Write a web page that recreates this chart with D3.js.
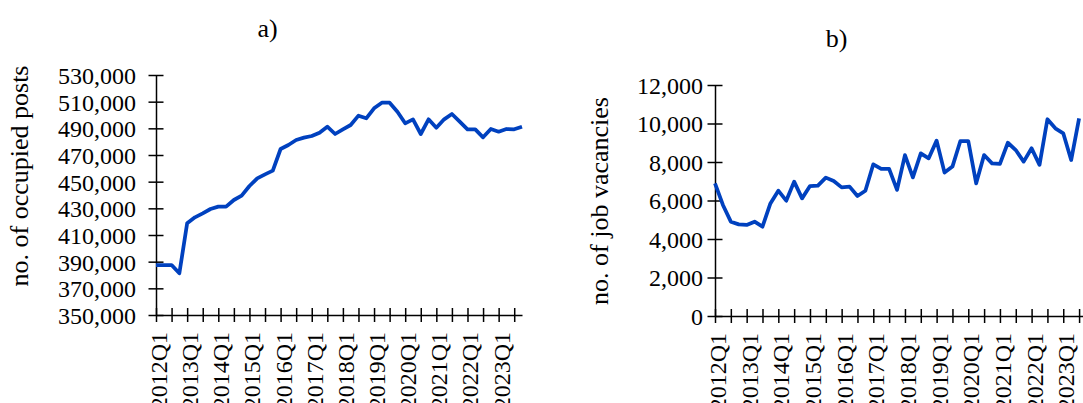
<!DOCTYPE html>
<html>
<head>
<meta charset="utf-8">
<script src="https://cdn.jsdelivr.net/npm/d3@7"></script>
<style>
  html, body { margin: 0; padding: 0; background: #fff; overflow: hidden; }
  svg { display: block; }
  text { font-family: "Liberation Serif", "Times New Roman", serif; fill: #000; }
</style>
</head>
<body>
<svg id="chart" width="1083" height="403"></svg>
<script>
// ---- data ----
const quarters = [
  "2012Q1","2012Q2","2012Q3","2012Q4","2013Q1","2013Q2","2013Q3","2013Q4",
  "2014Q1","2014Q2","2014Q3","2014Q4","2015Q1","2015Q2","2015Q3","2015Q4",
  "2016Q1","2016Q2","2016Q3","2016Q4","2017Q1","2017Q2","2017Q3","2017Q4",
  "2018Q1","2018Q2","2018Q3","2018Q4","2019Q1","2019Q2","2019Q3","2019Q4",
  "2020Q1","2020Q2","2020Q3","2020Q4","2021Q1","2021Q2","2021Q3","2021Q4",
  "2022Q1","2022Q2","2022Q3","2022Q4","2023Q1","2023Q2","2023Q3","2023Q4"
];
const tickQuarters = ["2012Q1","2012Q3","2013Q1","2013Q3","2014Q1","2014Q3","2015Q1","2015Q3",
  "2016Q1","2016Q3","2017Q1","2017Q3","2018Q1","2018Q3","2019Q1","2019Q3",
  "2020Q1","2020Q3","2021Q1","2021Q3","2022Q1","2022Q3","2023Q1","2023Q3"];
const tickLabels = ["2012Q1","2013Q1","2014Q1","2015Q1","2016Q1","2017Q1",
  "2018Q1","2019Q1","2020Q1","2021Q1","2022Q1","2023Q1"];

const occupiedPosts = [
  387500, 387500, 387500, 381250, 418750, 423250, 426250, 429500,
  431250, 431250, 436250, 439500, 446750, 452500, 455500, 458250,
  474500, 477500, 481250, 483000, 484250, 486750, 491250, 485750,
  489250, 492500, 499500, 497500, 505000, 509250, 509250, 502500,
  493750, 496750, 485750, 496750, 490500, 496750, 500750, 495000,
  489250, 489250, 483250, 489500, 487500, 489500, 489250, 491250
];
const jobVacancies = [
  6890, 5770, 4900, 4760, 4730, 4900, 4640, 5850,
  6510, 5990, 6980, 6110, 6750, 6770, 7190, 7010,
  6680, 6720, 6230, 6510, 7880, 7640, 7640, 6550,
  8360, 7200, 8450, 8190, 9110, 7450, 7760, 9090,
  9090, 6890, 8360, 7930, 7900, 9000, 8620, 8020,
  8710, 7850, 10220, 9750, 9490, 8100, 10270
];

const yTicksA = [350000,370000,390000,410000,430000,450000,470000,490000,510000,530000];
const yTicksB = [0,2000,4000,6000,8000,10000,12000];

const panelTitles = ["a)", "b)"];
const axisTitles = ["no. of occupied posts", "no. of job vacancies"];

// ---- drawing ----
const svg = d3.select("#chart");
const lineColor = "#0041BF";
const fmt = d3.format(",");
const labelSet = new Set(tickLabels);

function drawPanel(cfg) {
  const x = d3.scalePoint().domain(quarters).range(cfg.xRange);
  const y = d3.scaleLinear().domain(cfg.yDomain).range(cfg.yRange);
  const g = svg.append("g");

  // y axis
  const ya = g.append("g")
    .attr("transform", `translate(${cfg.xRange[0]},0)`)
    .call(d3.axisLeft(y).tickValues(cfg.yTicks).tickFormat(fmt).tickSize(7).tickSizeOuter(0));
  ya.select(".domain").attr("stroke", "#000").attr("stroke-width", 1.5);
  ya.selectAll(".tick line").attr("x1", -7.5).attr("x2", 7.5).attr("stroke", "#000").attr("stroke-width", 1.5);
  ya.selectAll(".tick text").attr("x", cfg.yLabelX).attr("dy", "0.35em")
    .style("font-size", "24px").style("font-family", '"Liberation Serif", "Times New Roman", serif');

  // x axis
  const xa = g.append("g")
    .attr("transform", `translate(0,${cfg.yRange[0]})`)
    .call(d3.axisBottom(x).tickValues(tickQuarters).tickFormat(d => labelSet.has(d) ? d : "").tickSize(7).tickSizeOuter(0));
  xa.select(".domain").attr("stroke", "#000").attr("stroke-width", 1.5);
  xa.selectAll(".tick line").attr("y1", -7).attr("y2", 7).attr("stroke", "#000").attr("stroke-width", 1.5);
  xa.selectAll(".tick text")
    .attr("transform", "rotate(-90)")
    .attr("x", -17).attr("y", 2).attr("dy", "0.35em")
    .style("text-anchor", "end")
    .style("font-size", "24px").style("font-family", '"Liberation Serif", "Times New Roman", serif');

  // line
  const line = d3.line()
    .x((d, i) => x(quarters[i]))
    .y(d => y(d));
  g.append("path")
    .datum(cfg.values)
    .attr("d", line)
    .attr("fill", "none")
    .attr("stroke", lineColor)
    .attr("stroke-width", 3.75)
    .attr("stroke-linejoin", "round");

  // titles
  g.append("text")
    .attr("x", cfg.titlePos[0]).attr("y", cfg.titlePos[1])
    .attr("text-anchor", "middle")
    .style("font-size", "26px")
    .text(cfg.title);
  g.append("text")
    .attr("transform", `translate(${cfg.axisTitlePos[0]},${cfg.axisTitlePos[1]}) rotate(-90)`)
    .attr("text-anchor", "middle")
    .style("font-size", "26px")
    .text(cfg.axisTitle);
}

drawPanel({
  xRange: [156, 522],
  yDomain: [350000, 530000],
  yRange: [315, 75],
  yTicks: yTicksA,
  yLabelX: -20,
  values: occupiedPosts,
  title: panelTitles[0],
  titlePos: [267.5, 37],
  axisTitle: axisTitles[0],
  axisTitlePos: [28, 176]
});

drawPanel({
  xRange: [715, 1087],
  yDomain: [0, 12000],
  yRange: [316, 85],
  yTicks: yTicksB,
  yLabelX: -12,
  values: jobVacancies,
  title: panelTitles[1],
  titlePos: [836.5, 46.5],
  axisTitle: axisTitles[1],
  axisTitlePos: [608, 201]
});
</script>
</body>
</html>
